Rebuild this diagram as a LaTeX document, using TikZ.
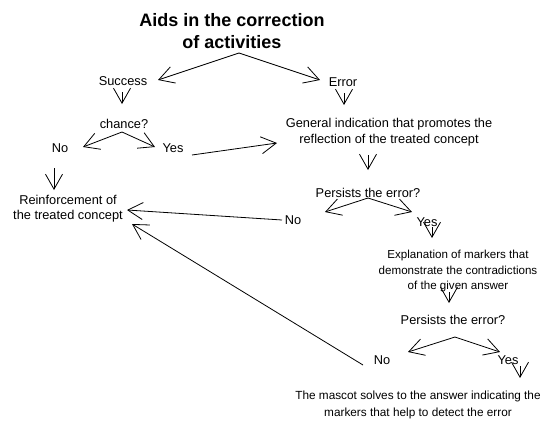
\documentclass[tikz,border=0pt]{standalone}
\usepackage{fontspec}
\setmainfont{Liberation Sans}
\usetikzlibrary{arrows.meta}
\begin{document}
\begin{tikzpicture}[x=1pt,y=-1pt,
  lbl/.style={inner sep=0pt, align=center, font=\fontsize{12.8}{16}\selectfont},
  ttl/.style={inner sep=0pt, align=center, font=\fontsize{18}{22}\selectfont\bfseries},
  arr/.style={line width=0.8pt, -{Straight Barb[length=15pt,width=17pt,line width=0.8pt]}}]
\path[use as bounding box, fill=white] (0,0) rectangle (549,421);
% nodes
\node[ttl] (title) at (232,31) {Aids in the correction\\of activities};
\node[lbl] (success) at (123,81) {Success};
\node[lbl] (error) at (343,82) {Error};
\node[lbl] (chance) at (124,124) {chance?};
\node[lbl] (general) at (389,132) {General indication that promotes the\\reflection of the treated concept};
\node[lbl] (no1) at (60,148) {No};
\node[lbl] (yes1) at (173,148) {Yes};
\node[lbl, font=\fontsize{12.8}{15}\selectfont] (reinf) at (68,209) {Reinforcement of\\the treated concept};
\node[lbl] (persist1) at (368,193) {Persists the error?};
\node[lbl] (no2) at (293,220) {No};
\node[lbl] (yes2) at (427,222) {Yes};
\node[lbl, font=\fontsize{11.6}{15.5}\selectfont] (expl) at (458,271) {Explanation of markers that\\demonstrate the contradictions\\of the given answer};
\node[lbl] (persist2) at (453,320) {Persists the error?};
\node[lbl] (no3) at (382,360) {No};
\node[lbl] (yes3) at (508,360) {Yes};
\node[lbl, font=\fontsize{11.8}{17}\selectfont] (mascot) at (418,404.5) {The mascot solves to the answer indicating the\\markers that help to detect the error};
% connector end points
\coordinate (tA) at (239,53);
\coordinate (sT) at (158,80);
\coordinate (eT) at (320,80);
\coordinate (sB) at (122,92);
\coordinate (cT) at (122,104);
\coordinate (eB) at (344,93);
\coordinate (gT) at (344,105);
\coordinate (cA) at (122,132);
\coordinate (n1T) at (83,147);
\coordinate (y1T) at (155,147);
\coordinate (y1S) at (192,155);
\coordinate (gL) at (277,143);
\coordinate (n1B) at (54,168);
\coordinate (rT) at (54,190);
\coordinate (gB) at (368,155);
\coordinate (p1T) at (368,170);
\coordinate (p1A) at (368,198);
\coordinate (n2T) at (325,212);
\coordinate (y2T) at (412,212);
\coordinate (n2S) at (282,220);
\coordinate (rR) at (127,210);
\coordinate (y2B) at (432,227);
\coordinate (xT) at (432,238);
\coordinate (xB) at (449,292);
\coordinate (p2T) at (449,303);
\coordinate (p2A) at (455,337);
\coordinate (n3T) at (408,352);
\coordinate (y3T) at (500,352);
\coordinate (n3S) at (363,365);
\coordinate (rR2) at (132,224);
\coordinate (y3B) at (520,366);
\coordinate (mT) at (520,378);
% connectors
\draw[arr] (tA) -- (sT);
\draw[arr] (tA) -- (eT);
\draw[arr] (sB) -- (cT);
\draw[arr] (eB) -- (gT);
\draw[arr] (cA) -- (n1T);
\draw[arr] (cA) -- (y1T);
\draw[arr] (y1S) -- (gL);
\draw[arr] (n1B) -- (rT);
\draw[arr] (gB) -- (p1T);
\draw[arr] (p1A) -- (n2T);
\draw[arr] (p1A) -- (y2T);
\draw[arr] (n2S) -- (rR);
\draw[arr] (y2B) -- (xT);
\draw[arr] (xB) -- (p2T);
\draw[arr] (p2A) -- (n3T);
\draw[arr] (p2A) -- (y3T);
\draw[arr] (n3S) -- (rR2);
\draw[arr] (y3B) -- (mT);
\end{tikzpicture}
\end{document}
